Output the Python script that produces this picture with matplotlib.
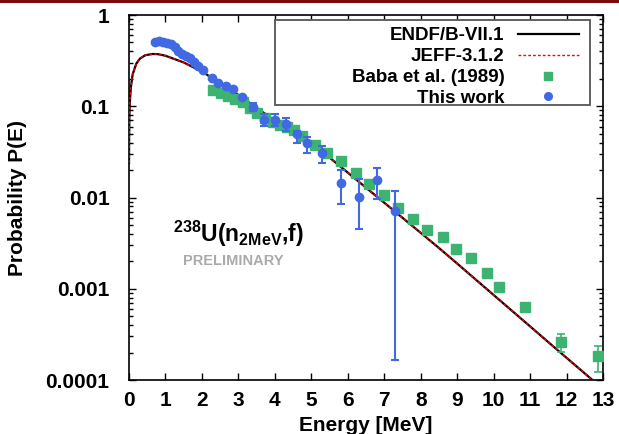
import matplotlib
matplotlib.use("Agg")
import matplotlib.pyplot as plt
from matplotlib.patches import Rectangle
from matplotlib.lines import Line2D

plt.rcParams['font.family'] = ['Liberation Sans', 'DejaVu Sans']
plt.rcParams['font.weight'] = 'bold'
plt.rcParams['mathtext.fontset'] = 'custom'
plt.rcParams['mathtext.rm'] = 'Liberation Sans:bold'
plt.rcParams['mathtext.bf'] = 'Liberation Sans:bold'
plt.rcParams['mathtext.it'] = 'Liberation Sans:bold'

# evaluated spectra
endf_e = [0.001, 0.003, 0.01, 0.02, 0.05, 0.1, 0.2, 0.3, 0.45, 0.65, 0.8, 1.0, 1.5, 2.0,
          2.5, 3.0, 3.5, 4.0, 4.5, 5.0, 5.5, 6.0, 6.5, 7.0, 7.5, 8.0, 8.5, 9.0, 9.5,
          10.0, 10.5, 11.0, 11.5, 12.0, 12.5, 12.75]
endf_p = [0.024, 0.042, 0.076, 0.106, 0.160, 0.224, 0.293, 0.333, 0.363, 0.374, 0.372,
          0.358, 0.302, 0.240, 0.180, 0.133, 0.096, 0.0697, 0.051, 0.0374, 0.0274,
          0.01875, 0.01282, 0.00877, 0.0060, 0.0041, 0.0028, 0.00189, 0.00127,
          0.000855, 0.000575, 0.000387, 0.00026, 0.000175, 0.000118, 0.000097]
jeff_e = list(endf_e)
jeff_p = list(endf_p)

# Baba et al. (1989)
baba_e = [2.30, 2.52, 2.71, 2.90, 3.12, 3.32, 3.51, 3.73, 3.95, 4.14, 4.33, 4.52, 4.74,
          5.10, 5.43, 5.81, 6.22, 6.58, 6.99, 7.37, 7.78, 8.16, 8.60, 8.96, 9.37, 9.81,
          10.16, 10.85, 11.86, 12.85]
baba_p = [0.151, 0.140, 0.129, 0.120, 0.111, 0.0957, 0.0844, 0.0743, 0.0672, 0.0623,
          0.0592, 0.0549, 0.0472, 0.0376, 0.0308, 0.0251, 0.0185, 0.0141, 0.01065,
          0.00767, 0.00581, 0.00441, 0.00369, 0.00273, 0.00217, 0.00149, 0.00105,
          0.00063, 0.000261, 0.000183]
baba_lo = list(baba_p[:26]) + [0.00098, 0.00059, 0.000203, 0.000122]
baba_hi = list(baba_p[:26]) + [0.00113, 0.00068, 0.000319, 0.000236]

# this work
this_e = [0.71, 0.82, 0.93, 1.04, 1.15, 1.26, 1.34, 1.45, 1.56, 1.67, 1.78, 1.89, 2.03,
          2.27, 2.44, 2.66, 2.85, 3.10, 3.40, 3.70, 4.00, 4.30, 4.60, 4.88, 5.29, 5.81,
          6.30, 6.80, 7.30]
this_p = [0.506, 0.519, 0.506, 0.494, 0.481, 0.446, 0.403, 0.374, 0.355, 0.338, 0.306,
          0.276, 0.250, 0.204, 0.180, 0.167, 0.154, 0.126, 0.098, 0.0707, 0.0707, 0.0640,
          0.0496, 0.0396, 0.0307, 0.0145, 0.0101, 0.0156, 0.0071]
this_lo = list(this_p[:18]) + [0.089, 0.0607, 0.0607, 0.0537, 0.0396, 0.0307, 0.0238,
                               0.0085, 0.00452, 0.0097, 0.000166]
this_hi = list(this_p[:18]) + [0.108, 0.0822, 0.0822, 0.0742, 0.0537, 0.046, 0.0368,
                               0.020, 0.0159, 0.0211, 0.0118]

blue = '#4169e1'
green = '#3cb371'

fig = plt.figure(figsize=(6.19, 4.34), dpi=100)
ax = fig.add_axes([0.2084, 0.1244, 0.7658, 0.841])

ax.plot(endf_e, endf_p, color='black', lw=1.6, zorder=3)
ax.plot(jeff_e, jeff_p, color='red', lw=1.0, ls=(0, (2, 1.5)), zorder=4)

b_err = [[p - l for p, l in zip(baba_p, baba_lo)], [h - p for p, h in zip(baba_p, baba_hi)]]
ax.errorbar(baba_e, baba_p, yerr=b_err, fmt='s', color=green, ms=6.5, mec=green,
            elinewidth=1.2, capsize=3, capthick=1.2, zorder=5)

t_err = [[p - l for p, l in zip(this_p, this_lo)], [h - p for p, h in zip(this_p, this_hi)]]
ax.errorbar(this_e, this_p, yerr=t_err, fmt='o', color=blue, ms=6, mec=blue,
            elinewidth=1.5, capsize=3, capthick=1.5, zorder=6)

ax.set_yscale('log')
ax.set_xlim(0, 13)
ax.set_ylim(1e-4, 1)
ax.set_xticks(range(0, 14))
ax.set_yticks([1e-4, 1e-3, 1e-2, 1e-1, 1])
ax.set_yticklabels(['0.0001', '0.001', '0.01', '0.1', '1'])
ax.tick_params(which='both', direction='in', top=True, right=True, labelsize=15, width=1)
ax.tick_params(which='major', length=5)
ax.tick_params(which='minor', length=3)
ax.tick_params(axis='x', pad=8)
ax.tick_params(axis='y', pad=14)
for s in ax.spines.values():
    s.set_linewidth(1.2)

ax.set_xlabel('Energy [MeV]', fontsize=15, fontweight='bold', labelpad=4)
ax.set_ylabel('Probability P(E)', fontsize=15, fontweight='bold', labelpad=13)

ax.text(0.23, 0.4, r'$^{238}$U(n$_{2MeV}$,f)', transform=ax.transAxes, fontsize=16.5,
        fontweight='bold', ha='center', va='center')
ax.text(0.22, 0.325, 'PRELIMINARY', transform=ax.transAxes, fontsize=10.5,
        fontweight='bold', color='#aaaaaa', ha='center', va='center')

# legend box drawn separately so it keeps the wide frame of the original
ax.add_patch(Rectangle((0.308, 0.753), 0.6646, 0.233, transform=ax.transAxes,
                       fill=True, fc='white', ec='#555555', lw=1.3, zorder=7))
handles = [
    Line2D([], [], color='black', lw=1.6),
    Line2D([], [], color='red', lw=1.0, ls=(0, (2, 1.5))),
    Line2D([], [], ls='none', marker='s', color=green, ms=6),
    Line2D([], [], ls='none', marker='o', color=blue, ms=5.5),
]
labels = ['ENDF/B-VII.1', 'JEFF-3.1.2', 'Baba et al. (1989)', 'This work']
leg = ax.legend(handles, labels, loc='upper right', bbox_to_anchor=(0.962, 0.982),
                frameon=False, markerfirst=False, fontsize=13.5, handlelength=3.3,
                handletextpad=0.7, labelspacing=0.2, borderaxespad=0, borderpad=0.3)
leg.set_zorder(8)
for t in leg.get_texts():
    t.set_fontweight('bold')

fig.patches.append(Rectangle((0, 1 - 3 / 434), 1, 3 / 434, transform=fig.transFigure,
                             fc='#7d0a0a', ec='none'))

fig.savefig('out.png', dpi=100)
